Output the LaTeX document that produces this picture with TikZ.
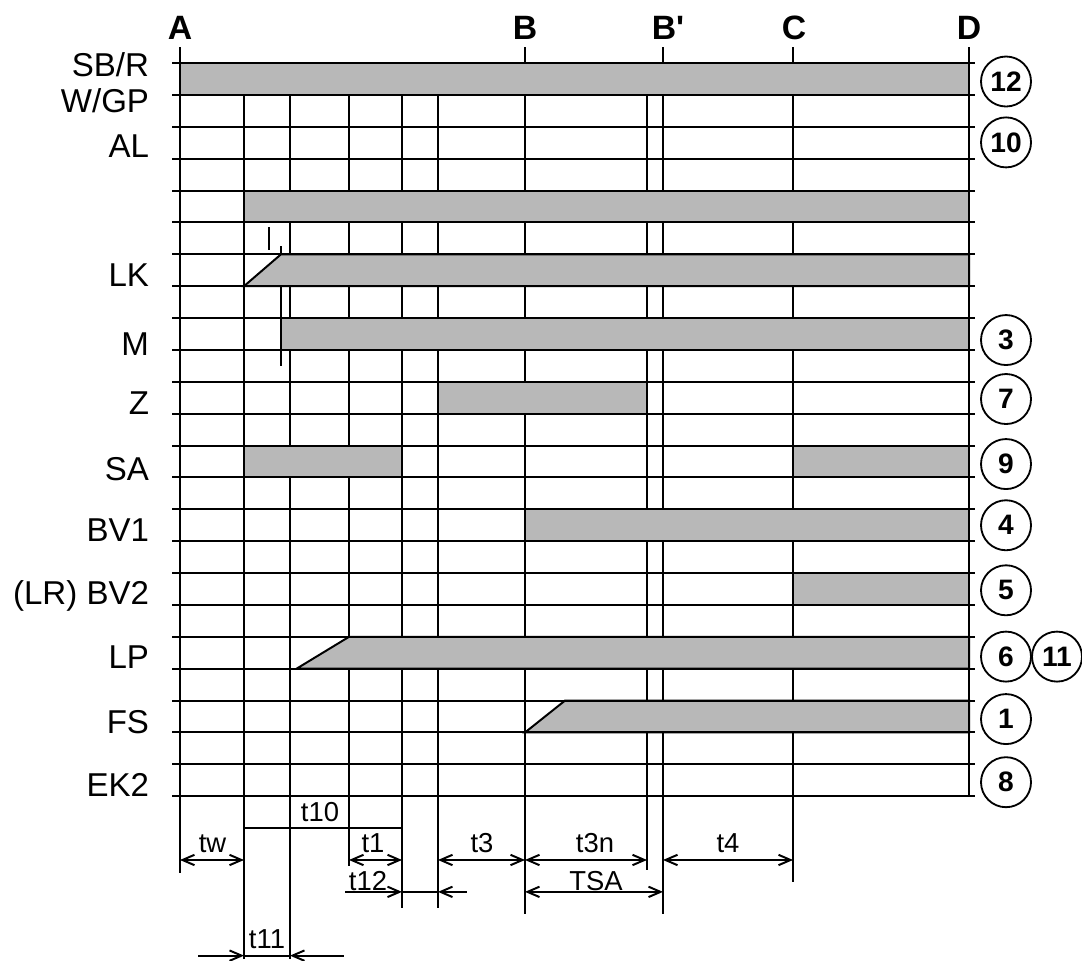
\documentclass[tikz,border=0pt]{standalone}
\usepackage{fontspec}
\setmainfont{Liberation Sans}
\usetikzlibrary{arrows.meta}

\begin{document}
\begin{tikzpicture}[x=0.025cm,y=-0.79675cm,line width=1.4pt,>={Straight Barb[length=0.3cm,width=0.26cm]},
  bar/.style={draw,fill=black!28},
  sig/.style={anchor=base east,inner sep=0pt,font=\fontsize{23.5}{26}\selectfont},
  timept/.style={inner sep=0pt,font=\bfseries\fontsize{24}{26}\selectfont},
  num/.style={draw,circle,line width=1.3pt,minimum size=1.25cm,inner sep=0pt,font=\bfseries\fontsize{20}{22}\selectfont},
  dim/.style={anchor=base,inner sep=0pt,font=\fontsize{19.5}{22}\selectfont}]
\useasboundingbox (0,-1.977) rectangle (1082,28.146);
% time lines
\draw (180,-0.5) -- (180,25.4);
\draw (244,1) -- (244,28.1);
\draw (290,1) -- (290,28.1);
\draw (349,1) -- (349,25.2);
\draw (402,1) -- (402,26.5);
\draw (438,1) -- (438,26.5);
\draw (525,-0.5) -- (525,26.7);
\draw (647,1) -- (647,25.3);
\draw (663,-0.5) -- (663,26.7);
\draw (793,-0.5) -- (793,25.7);
\draw (969,-0.5) -- (969,23);
\draw (269,5.15) -- (269,5.87);
\draw (281,5.74) -- (281,9.51);
% signal bars
\draw[bar] (180,0) rectangle (969,1);
\draw[bar] (244,4) rectangle (969,5);
\draw[bar] (244,7) -- (281,6) -- (969,6) -- (969,7) -- cycle;
\draw[bar] (281,8) rectangle (969,9);
\draw[bar] (438,10) rectangle (647,11);
\draw[bar] (244,12) rectangle (402,13);
\draw[bar] (793,12) rectangle (969,13);
\draw[bar] (525,14) rectangle (969,15);
\draw[bar] (793,16) rectangle (969,17);
\draw[bar] (296.5,19) -- (349,18) -- (969,18) -- (969,19) -- cycle;
\draw[bar] (525,21) -- (565,20) -- (969,20) -- (969,21) -- cycle;
\foreach \i in {0,...,23}
  \draw (172,\i) -- (975,\i);
% points in time
\node[timept] (pA) at (180,-1.1) {A};
\node[timept] (pB) at (525,-1.1) {B};
\node[timept] (pBB) at (668,-1.1) {B\textquotesingle};
\node[timept] (pC) at (794,-1.1) {C};
\node[timept] (pD) at (969,-1.1) {D};
% signals
\node[sig] (sbr) at (150,0.41) {SB/R};
\node[sig] (wgp) at (150,1.54) {W/GP};
\node[sig] (al) at (150,2.95) {AL};
\node[sig] (lk) at (150,7) {LK};
\node[sig] (m) at (150,9.18) {M};
\node[sig] (z) at (150,11.02) {Z};
\node[sig] (sa) at (150,13.1) {SA};
\node[sig] (bv1) at (150,15.02) {BV1};
\node[sig] (bv2) at (150,16.98) {(LR) BV2};
\node[sig] (lp) at (150,19) {LP};
\node[sig] (fs) at (150,21.03) {FS};
\node[sig] (ek2) at (150,23) {EK2};
% references
\node[num] (n12) at (1006,0.58) {12};
\node[num] (n10) at (1006,2.49) {10};
\node[num] (n3) at (1006,8.69) {3};
\node[num] (n7) at (1006,10.54) {7};
\node[num] (n9) at (1006,12.58) {9};
\node[num] (n4) at (1006,14.5) {4};
\node[num] (n5) at (1006,16.54) {5};
\node[num] (n6) at (1006,18.62) {6};
\node[num] (n11) at (1057,18.62) {11};
\node[num] (n1) at (1006,20.58) {1};
\node[num] (n8) at (1006,22.56) {8};
% times
\draw (244,24) -- (402,24);
\node[dim] (t10) at (320,23.8) {t10};
\draw[<->] (180,25) -- (244,25);
\node[dim] (tw) at (212.5,24.76) {tw};
\draw[<->] (349,25) -- (402,25);
\node[dim] (t1) at (373,24.76) {t1};
\draw[<->] (438,25) -- (525,25);
\node[dim] (t3) at (482,24.76) {t3};
\draw[<->] (525,25) -- (647,25);
\node[dim] (t3n) at (595,24.76) {t3n};
\draw[<->] (663,25) -- (793,25);
\node[dim] (t4) at (728,24.76) {t4};
\draw[->] (345,26) -- (402,26);
\draw (402,26) -- (438,26);
\draw[<-] (438,26) -- (467,26);
\node[dim] (t12) at (368,25.95) {t12};
\draw[<->] (525,26) -- (663,26);
\node[dim] (tsa) at (596,25.95) {TSA};
\draw[->] (198,28) -- (244,28);
\draw (244,28) -- (290,28);
\draw[<-] (290,28) -- (344,28);
\node[dim] (t11) at (267,27.77) {t11};
\end{tikzpicture}
\end{document}
